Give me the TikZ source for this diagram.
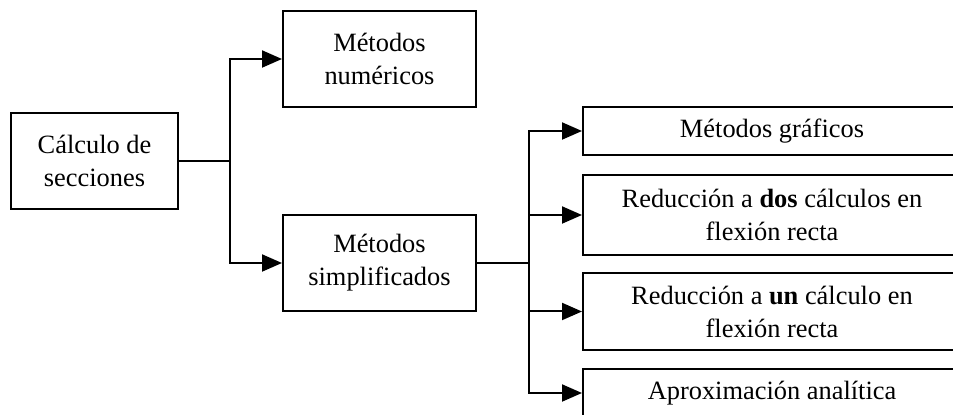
\documentclass[tikz,border=0pt]{standalone}
\usepackage{fontspec}
\setmainfont{Liberation Serif}
\usetikzlibrary{arrows.meta}
\begin{document}
\begin{tikzpicture}[x=0.5pt,y=-0.5pt,
  box/.style={draw, line width=1pt, align=center, inner sep=0pt,
    font=\fontsize{13.2}{16.5}\selectfont},
  conn/.style={line width=1pt},
  arr/.style={line width=1pt, -{Triangle[length=10pt,width=8.5pt]}}]
\useasboundingbox (0,0) rectangle (953,415);
\clip (0,0) rectangle (953,415);
\node[box, minimum width=83.5pt, minimum height=48pt] (calc) at (94.5,161) {Cálculo de\\secciones};
\node[box, minimum width=96.5pt, minimum height=48pt] (num) at (379.5,59) {Métodos\\numéricos};
\node[box, minimum width=96.5pt, minimum height=48pt] (simp) at (379.5,263) {Métodos\\simplificados};
\node[box, minimum width=189pt, minimum height=24pt] (graf) at (772,131) {Métodos gráficos};
\node[box, minimum width=189pt, minimum height=40pt] (dos) at (772,215) {Reducción a \textbf{dos} cálculos en\\flexión recta};
\node[box, minimum width=189pt, minimum height=38.5pt] (un) at (772,311.5) {Reducción a \textbf{un} cálculo en\\flexión recta};
\node[box, minimum width=189pt, minimum height=24pt] (aprox) at (772,393) {Aproximación analítica};
\coordinate (j1) at (230,161);
\draw[conn] (calc.east) -- (j1);
\draw[arr] (j1) |- (num.west);
\draw[arr] (j1) |- (simp.west);
\coordinate (j2) at (529,263);
\draw[conn] (simp.east) -- (j2);
\draw[arr] (j2) |- (graf.west);
\draw[arr] (j2) |- (dos.west);
\draw[arr] (j2) |- (un.west);
\draw[arr] (j2) |- (aprox.west);
\end{tikzpicture}
\end{document}
